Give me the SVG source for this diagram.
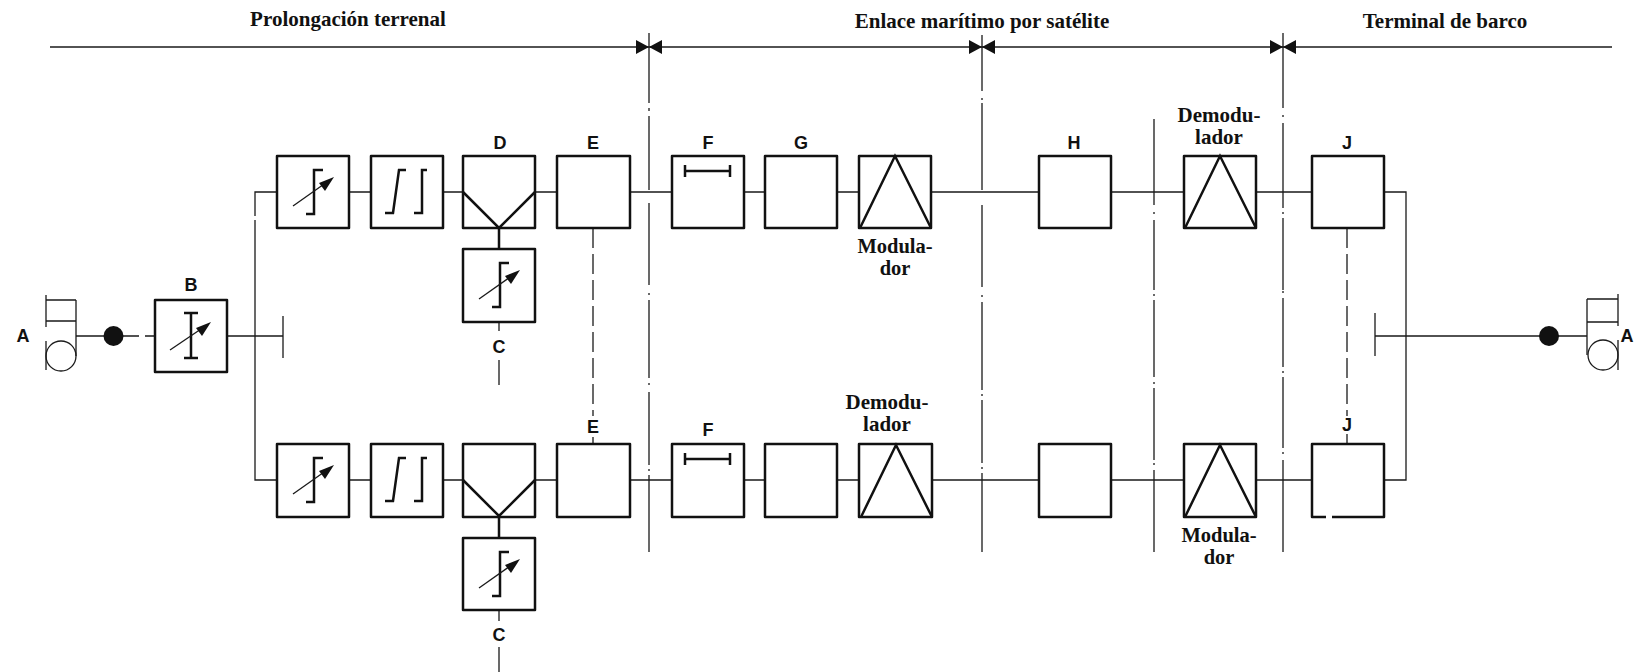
<svg xmlns="http://www.w3.org/2000/svg" width="1634" height="672" viewBox="0 0 1634 672">
<style>
.l{fill:none;stroke:#1a1a1a;stroke-width:1.3}
.b{fill:none;stroke:#111;stroke-width:2.5;stroke-linejoin:round}
.s{fill:none;stroke:#111;stroke-width:2.5}
.t{font-family:"Liberation Serif",serif;font-weight:bold;font-size:21px;fill:#111;text-anchor:middle}
.m{font-size:20.500px}
.k{font-family:"Liberation Sans",Arial,sans-serif;font-weight:bold;font-size:18px;fill:#111;text-anchor:middle}
.d{stroke-dasharray:20 6}
</style>
<defs>
<g id="sym-var">
<path class="s" d="M46 14H37V58H29"/>
<path class="l" d="M16 50L50 26"/>
<path d="M57 21L42 27L48 35Z" fill="#111"/>
</g>
<g id="sym-dbl">
<path class="s" d="M14 57H22L28 14H35M43 57H51V14H56"/>
</g>
<g id="sym-v">
<path class="s" d="M0 36L36 72L72 36"/>
</g>
<g id="sym-f">
<path class="s" d="M13 9V21M58 9V21M13 15H58"/>
</g>
<g id="sym-tri">
<path class="s" d="M1 72L36 0L72 72"/>
</g>
</defs>

<g id="connectors">
<path class="l" d="M50 47H1612"/>
<path class="l" d="M649 33V103M649 108V111M649 116V190M649 203V285M649 293V295M649 300V378M649 383V385M649 392V465M649 469V471M649 475V552"/>
<path class="l" d="M982 35V91M982 98V100M982 103V190M982 205V287M982 295V297M982 302V390M982 394V396M982 400V463M982 467V469M982 473V552"/>
<path class="l" d="M1154 119V205M1154 212V214M1154 220V290M1154 294V296M1154 300V377M1154 382V384M1154 388V460M1154 463V465M1154 470V552"/>
<path class="l" d="M1283 33V108M1283 115V117M1283 123V208M1283 212V214M1283 218V290M1283 291V293M1283 298V367M1283 371V373M1283 377V448M1283 452V454M1283 460V552"/>
<path d="M649 47L636 40V54ZM649 47L662 40V54Z M982 47L969 40V54ZM982 47L995 40V54Z M1283 47L1270 40V54ZM1283 47L1296 40V54Z" fill="#111"/>

<path class="l" d="M76 336H113M123 336H139M145 336H155M227 336H283"/>
<path class="l" d="M283 316V358M255 216V192H277M255 220V480H277"/>
<path class="l" d="M349 192H371M443 192H463M535 192H557M630 192H672M744 192H765M837 192H859M931 192H1039M1111 192H1184M1256 192H1312M1384 192H1406V480H1384"/>
<path class="l" d="M349 480H371M443 480H463M535 480H557M630 480H672M744 480H765M837 480H859M931 480H1039M1111 480H1184M1256 480H1312"/>
<path class="l" d="M1375 313V356M1375 336H1549H1587"/>
<path class="s" d="M499 228V249M499 516V538"/>
<path class="l" d="M499 322V331M499 360V385M499 610V621M499 647V672"/>
<path class="l d" d="M593 228V416M593 437V444"/>
<path class="l d" d="M1347 228V416M1347 434V444"/>
</g>

<g id="headers">
<text class="t" x="348" y="26">Prolongación terrenal</text>
<text class="t" x="982" y="28">Enlace marítimo por satélite</text>
<text class="t" x="1445" y="28">Terminal de barco</text>
</g>

<g id="node-A-left">
<text class="k" x="23" y="342">A</text>
<path class="l" stroke-width="2" d="M46 295V327M46 341V370M46 300H76M46 321H76M76 300V356"/>
<circle class="l" cx="61" cy="356" r="15"/>
<circle cx="113.500" cy="336" r="10" fill="#111"/>
</g>

<g id="node-B">
<text class="k" x="191" y="291">B</text>
<rect class="b" x="155" y="300" width="72" height="72"/>
<path class="s" d="M184 313H198M191 313V358M184 358H198"/>
<path class="l" d="M170 350L204 327"/>
<path d="M211 322L196 328L202 336Z" fill="#111"/>
</g>

<g id="node-top-1"><rect class="b" x="277" y="156" width="72" height="72"/><use href="#sym-var" x="277" y="156"/></g>
<g id="node-top-2"><rect class="b" x="371" y="156" width="72" height="72"/><use href="#sym-dbl" x="371" y="156"/></g>
<g id="node-D"><text class="k" x="500" y="149">D</text><rect class="b" x="463" y="156" width="72" height="72"/><use href="#sym-v" x="463" y="156"/></g>
<g id="node-C-top"><rect class="b" x="463" y="249" width="72" height="73"/><use href="#sym-var" x="463" y="249"/><text class="k" x="499" y="353">C</text></g>
<g id="node-E-top"><text class="k" x="593" y="149">E</text><rect class="b" x="557" y="156" width="73" height="72"/></g>
<g id="node-F-top"><text class="k" x="708" y="149">F</text><rect class="b" x="672" y="156" width="72" height="72"/><use href="#sym-f" x="672" y="156"/></g>
<g id="node-G"><text class="k" x="801" y="149">G</text><rect class="b" x="765" y="156" width="72" height="72"/></g>
<g id="node-mod-top"><rect class="b" x="859" y="156" width="72" height="72"/><use href="#sym-tri" x="859" y="156"/><text class="t m" x="895" y="253">Modula-</text><text class="t m" x="895" y="275">dor</text></g>
<g id="node-H"><text class="k" x="1074" y="149">H</text><rect class="b" x="1039" y="156" width="72" height="72"/></g>
<g id="node-dem-top"><text class="t" x="1219" y="122">Demodu-</text><text class="t" x="1219" y="144">lador</text><rect class="b" x="1184" y="156" width="72" height="72"/><use href="#sym-tri" x="1184" y="156"/></g>
<g id="node-J-top"><text class="k" x="1347" y="149">J</text><rect class="b" x="1312" y="156" width="72" height="72"/></g>

<g id="node-bot-1"><rect class="b" x="277" y="444" width="72" height="73"/><use href="#sym-var" x="277" y="444"/></g>
<g id="node-bot-2"><rect class="b" x="371" y="444" width="72" height="73"/><use href="#sym-dbl" x="371" y="444"/></g>
<g id="node-bot-3"><rect class="b" x="463" y="444" width="72" height="73"/><use href="#sym-v" x="463" y="444"/></g>
<g id="node-C-bot"><rect class="b" x="463" y="538" width="72" height="72"/><use href="#sym-var" x="463" y="538"/><text class="k" x="499" y="641">C</text></g>
<g id="node-E-bot"><text class="k" x="593" y="433">E</text><rect class="b" x="557" y="444" width="73" height="73"/></g>
<g id="node-F-bot"><text class="k" x="708" y="436">F</text><rect class="b" x="672" y="444" width="72" height="73"/><use href="#sym-f" x="672" y="444"/></g>
<g id="node-bot-G"><rect class="b" x="765" y="444" width="72" height="73"/></g>
<g id="node-dem-bot"><text class="t" x="887" y="409">Demodu-</text><text class="t" x="887" y="431">lador</text><rect class="b" x="859" y="444" width="73" height="73"/><use href="#sym-tri" x="860" y="445"/></g>
<g id="node-bot-H"><rect class="b" x="1039" y="444" width="72" height="73"/></g>
<g id="node-mod-bot"><rect class="b" x="1184" y="444" width="72" height="73"/><use href="#sym-tri" x="1184" y="445"/><text class="t m" x="1219" y="542">Modula-</text><text class="t m" x="1219" y="564">dor</text></g>
<g id="node-J-bot"><text class="k" x="1347" y="431">J</text><path class="b" d="M1326 517H1312V444H1384V517H1332"/></g>

<g id="node-A-right">
<circle cx="1549" cy="336" r="10" fill="#111"/>
<path class="l" d="M1618 294V326M1618 340V370M1587 299H1618M1587 322H1618M1587 299V355"/>
<circle class="l" cx="1603" cy="355" r="15"/>
<text class="k" x="1633.500" y="342" style="text-anchor:end">A</text>
</g>
</svg>
